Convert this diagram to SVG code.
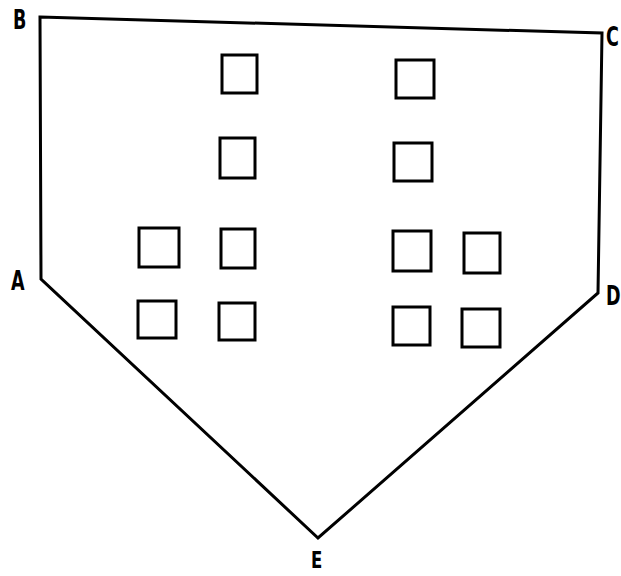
<svg xmlns="http://www.w3.org/2000/svg" width="621" height="576" viewBox="0 0 621 576">
<style>
.ln{fill:none;stroke:#000;stroke-width:3;stroke-linejoin:miter}
.sq{fill:none;stroke:#000;stroke-width:3}
.lb{font-family:"DejaVu Sans Condensed","DejaVu Sans",sans-serif;font-weight:bold;font-size:26px;fill:#000}
</style>
<rect width="621" height="576" fill="#fff"/>
<g id="outline">
<polygon class="ln" points="40,17 602,33 598,293 318,538 41,279"/>
</g>
<g id="squares">
<rect class="sq" x="222" y="55" width="35" height="38"/>
<rect class="sq" x="220" y="138" width="35" height="40"/>
<rect class="sq" x="139" y="228" width="40" height="39"/>
<rect class="sq" x="221" y="229" width="34" height="39"/>
<rect class="sq" x="138" y="301" width="38" height="37"/>
<rect class="sq" x="219" y="303" width="36" height="37"/>
<rect class="sq" x="396" y="60" width="38" height="38"/>
<rect class="sq" x="394" y="143" width="38" height="38"/>
<rect class="sq" x="393" y="231" width="38" height="40"/>
<rect class="sq" x="464" y="233" width="36" height="40"/>
<rect class="sq" x="393" y="307" width="37" height="38"/>
<rect class="sq" x="462" y="309" width="38" height="38"/>
</g>
<g id="labels">
<text class="lb" transform="translate(13,29) scale(0.75,1)">B</text>
<text class="lb" transform="translate(606,46) scale(0.75,1)">C</text>
<text class="lb" transform="translate(11,290) scale(0.75,1)">A</text>
<text class="lb" transform="translate(606,305) scale(0.75,1)">D</text>
<text class="lb" style="font-size:23px" transform="translate(311,568) scale(0.8,1)">E</text>
</g>
</svg>
